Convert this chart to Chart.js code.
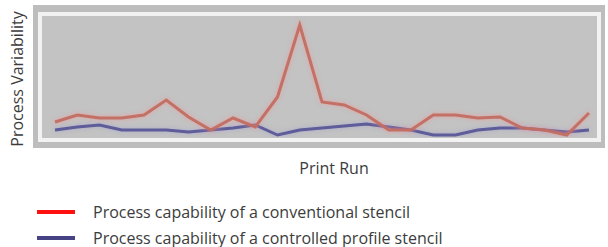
<!DOCTYPE html>
<html>
<head>
<meta charset="utf-8">
<script src="https://cdn.jsdelivr.net/npm/chart.js@4.4.1/dist/chart.umd.min.js"></script>
<style>
  html, body { margin:0; padding:0; background:#fff; }
  body { width:608px; height:247px; position:relative; overflow:hidden; font-family:"Open Sans", sans-serif; color:#3c3c3c; }
  #outer { position:absolute; left:33px; top:5px; width:572px; height:143px; background:#bdbdbd; }
  #frame { position:absolute; left:38px; top:12px; width:555px; height:122px; border:4px solid #f2f2f2; background:#c3c3c3; }
  #plot { position:absolute; left:43px; top:17px; width:554px; height:120px; }
  #ytitle { position:absolute; left:17px; top:79px; transform:translate(-50%,-50%) rotate(-90deg); font-size:16px; white-space:nowrap; }
  #xtitle { position:absolute; left:334px; top:168px; transform:translate(-50%,-50%); font-size:16px; white-space:nowrap; }
  .leg { position:absolute; left:37px; font-size:16px; white-space:nowrap; }
  .leg .sw { position:absolute; left:0; width:38px; height:4px; }
  .leg .tx { position:absolute; left:56px; transform:translateY(-50%); }
</style>
</head>
<body>
<div id="outer"></div>
<div id="frame"></div>
<div id="plot"><canvas id="c" width="554" height="120"></canvas></div>
<div id="ytitle">Process Variability</div>
<div id="xtitle">Print Run</div>
<div class="leg" style="top:212px"><div class="sw" style="top:-2px;background:#ff1010"></div><div class="tx">Process capability of a conventional stencil</div></div>
<div class="leg" style="top:238px"><div class="sw" style="top:-2px;background:#454383"></div><div class="tx">Process capability of a controlled profile stencil</div></div>
<script>
const runs = [1,2,3,4,5,6,7,8,9,10,11,12,13,14,15,16,17,18,19,20,21,22,23,24,25];
const conventional = [15,22,19,19,22,37,20,7,19,10,40,112,35,32,22,7,7,22,22,19,20,9,7,2,24];
const controlled = [7,10,12,7,7,7,5,7,9,12,2,7,9,11,13,10,7,2,2,7,9,9,7,5,7];
const seriesNames = ["Process capability of a conventional stencil","Process capability of a controlled profile stencil"];

const glow = {
  id:'glow',
  beforeDatasetDraw(chart, args){ const ctx = chart.ctx; ctx.save(); ctx.shadowColor = args.index===0 ? 'rgba(240,150,150,0.8)' : 'rgba(150,150,210,0.6)'; ctx.shadowBlur = 4; },
  afterDatasetDraw(chart){ chart.ctx.restore(); }
};

new Chart(document.getElementById('c'), {
  type: 'line',
  data: {
    datasets: [
      { label: seriesNames[0], data: runs.map((r,i)=>({x:r,y:conventional[i]})), borderColor:'rgba(194,110,98,0.95)', borderWidth:3, pointRadius:0, tension:0, fill:false },
      { label: seriesNames[1], data: runs.map((r,i)=>({x:r,y:controlled[i]})), borderColor:'rgba(88,86,150,0.95)', borderWidth:3, pointRadius:0, tension:0, fill:false }
    ]
  },
  options: {
    responsive:false, animation:false, devicePixelRatio:1,
    layout:{ padding:0 },
    plugins:{ legend:{display:false}, tooltip:{enabled:false} },
    scales:{
      x:{ type:'linear', display:false, min:0.46, max:25.36 },
      y:{ display:false, min:0, max:120 }
    }
  },
  plugins:[glow]
});
</script>
</body>
</html>
